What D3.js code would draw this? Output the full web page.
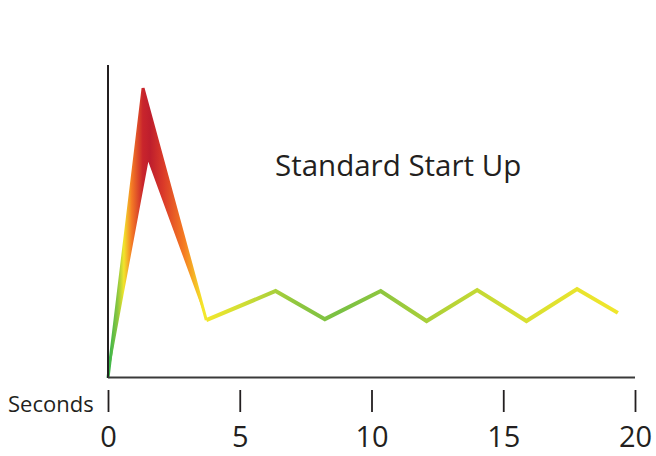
<!DOCTYPE html>
<html><head><meta charset="utf-8">
<script src="https://cdn.jsdelivr.net/npm/d3@7"></script>
<style>body{margin:0;background:#fff}svg{display:block}</style>
</head><body>
<svg id="c" width="656" height="456"></svg>
<script>
// Data
const title = "Standard Start Up";
const axisLabel = "Seconds";
const tickValues = [0, 5, 10, 15, 20];
const seconds = [0, 1.33, 3.73, 6.36, 8.23, 10.35, 12.09, 14.01, 15.88, 17.8, 19.35];
const level   = [0, 92.6, 18.5, 27.8, 18.8, 27.8, 18.2, 28.1, 18.2, 28.4, 20.8];
// inner vertex of the wide start-up spike (seconds, level)
const spikeInner = [1.53, 69.1];

const svg = d3.select("#c");
const x = d3.scaleLinear().domain([0, 20]).range([108, 635]);
const y = d3.scaleLinear().domain([0, 100]).range([378, 65]);

// gradient along x
const stops = [
  [0, "#2bb24c"], [0.018, "#8cc63f"], [0.03, "#f2e52b"], [0.045, "#f47a25"],
  [0.066, "#c9252c"], [0.08, "#be1e2d"], [0.105, "#da3a29"], [0.145, "#f57c22"],
  [0.18, "#f5e82a"], [0.25, "#d4df34"], [0.36, "#8ec63f"], [0.44, "#79c143"],
  [0.52, "#8ec63f"], [0.65, "#b7d436"], [0.78, "#d6df31"], [0.9, "#e9e42d"], [1, "#f3e72b"]
];
const grad = svg.append("defs").append("linearGradient")
  .attr("id", "g").attr("gradientUnits", "userSpaceOnUse")
  .attr("x1", x(0)).attr("x2", x(20)).attr("y1", 0).attr("y2", 0);
grad.selectAll("stop").data(stops).join("stop")
  .attr("offset", d => d[0]).attr("stop-color", d => d[1]);

const pts = seconds.map((s, i) => [s, level[i]]);
const line = d3.line().x(d => x(d[0])).y(d => y(d[1]));

// spike as filled shape
const spike = [pts[0], pts[1], pts[2], spikeInner];
svg.append("path").attr("d", line(spike) + "Z").attr("fill", "url(#g)");

// rest of the line
svg.append("path").attr("d", line(pts.slice(2)))
  .attr("fill", "none").attr("stroke", "url(#g)").attr("stroke-width", 4)
  .attr("stroke-linejoin", "miter");
// thin edge for spike legs
svg.append("path").attr("d", line(pts.slice(0, 3)))
  .attr("fill", "none").attr("stroke", "url(#g)").attr("stroke-width", 3)
  .attr("stroke-linejoin", "miter");

// axes lines
svg.append("line").attr("x1", x(0)).attr("x2", x(0)).attr("y1", 65).attr("y2", y(0))
  .attr("stroke", "#231f20").attr("stroke-width", 2);
svg.append("line").attr("x1", x(0)).attr("x2", x(20)).attr("y1", 377.5).attr("y2", 377.5)
  .attr("stroke", "#3a3a3a").attr("stroke-width", 2);

// bottom ticks
const ax = svg.append("g").attr("transform", "translate(0,390)")
  .call(d3.axisBottom(x).tickValues(tickValues).tickSize(22).tickPadding(14).tickFormat(d3.format("d")));
ax.select(".domain").remove();
ax.selectAll(".tick line").attr("stroke", "#231f20").attr("stroke-width", 1.8);
ax.selectAll(".tick text").attr("fill", "#231f20")
  .attr("font-family", "'Open Sans', sans-serif").attr("font-size", 29);

svg.append("text").attr("x", 8).attr("y", 412).text(axisLabel)
  .attr("font-family", "'Open Sans', sans-serif").attr("font-size", 22).attr("fill", "#231f20");

svg.append("text").attr("x", 275).attr("y", 176).text(title)
  .attr("font-family", "'Open Sans', sans-serif").attr("font-size", 29.5).attr("fill", "#231f20");
</script>
</body></html>
